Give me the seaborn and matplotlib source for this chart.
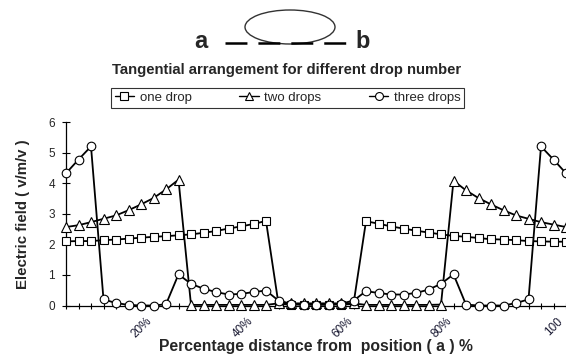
import matplotlib
matplotlib.use("Agg")
import matplotlib.pyplot as plt
import seaborn as sns
import pandas as pd
from matplotlib.patches import Ellipse
from matplotlib.lines import Line2D

# ---------------- data ----------------
positions = [0, 2.5, 5, 7.5, 10, 12.5, 15, 17.5, 20, 22.5,
             25, 27.5, 30, 32.5, 35, 37.5, 40, 42.5, 45, 47.5,
             50, 52.5, 55, 57.5, 60, 62.5, 65, 67.5, 70, 72.5,
             75, 77.5, 80, 82.5, 85, 87.5, 90, 92.5, 95, 97.5, 100]

one_drop = [2.10, 2.11, 2.11, 2.14, 2.16, 2.19, 2.22, 2.25, 2.27, 2.30,
            2.33, 2.38, 2.44, 2.52, 2.59, 2.67, 2.77,
            0.05, 0.03, 0.03, 0.03, 0.03, 0.03, 0.05,
            2.76, 2.68, 2.59, 2.52, 2.45, 2.39, 2.33, 2.28, 2.25, 2.21,
            2.17, 2.16, 2.14, 2.11, 2.10, 2.09, 2.09]

two_drops = [2.57, 2.63, 2.73, 2.84, 2.95, 3.12, 3.31, 3.52, 3.80, 4.12,
             0.02, 0.02, 0.02, 0.02, 0.02, 0.02, 0.02,
             0.07, 0.07, 0.07, 0.07, 0.07, 0.07, 0.07,
             0.02, 0.02, 0.02, 0.02, 0.02, 0.02, 0.03,
             4.09, 3.77, 3.52, 3.31, 3.12, 2.95, 2.84, 2.73, 2.65, 2.57]

three_drops = [4.33, 4.78, 5.21,
               0.20, 0.08, 0.02, 0.00, 0.00, 0.04, 1.02, 0.71, 0.55, 0.44,
               0.36, 0.38, 0.44, 0.49,
               0.16, 0.06, 0.03, 0.03, 0.03, 0.06, 0.16,
               0.47, 0.41, 0.36, 0.36, 0.41, 0.52, 0.71, 1.02, 0.03, 0.00,
               0.00, 0.00, 0.08, 0.20,
               5.21, 4.78, 4.33]

series_names = ["one drop", "two drops", "three drops"]
y_ticks = [0, 1, 2, 3, 4, 5, 6]
x_tick_labels = ["20%", "40%", "60%", "80%", "100"]

title_text = "Tangential arrangement for different drop number"
x_label = "Percentage distance from  position ( a ) %"
y_label = "Electric field ( v/m/v )"

# ---------------- style ----------------
sns.set_theme(style="white")
plt.rcParams["font.family"] = ["Liberation Sans", "DejaVu Sans"]
plt.rcParams["lines.scale_dashes"] = False

W, H = 566, 356
fig = plt.figure(figsize=(W / 100, H / 100), dpi=100)
ax_left, ax_right, ax_bottom, ax_top = 66, 566, 305.5, 122.3
ax = fig.add_axes([ax_left / W, 1 - ax_bottom / H,
                   (ax_right - ax_left) / W, (ax_bottom - ax_top) / H])

df = pd.DataFrame({
    "pos": positions * 3,
    "value": one_drop + two_drops + three_drops,
    "series": sum([[n] * len(positions) for n in series_names], []),
})

markers = {"one drop": "s", "two drops": "^", "three drops": "o"}
msizes = {"one drop": 5.8, "two drops": 6.8, "three drops": 6.2}

handles = []
for name in series_names:
    sub = df[df["series"] == name]
    sns.lineplot(data=sub, x="pos", y="value", ax=ax, color="black",
                 marker=markers[name], markersize=msizes[name],
                 markerfacecolor="white", markeredgecolor="black",
                 markeredgewidth=0.8, linewidth=1.3, clip_on=False,
                 legend=False, zorder=3)
    handles.append(Line2D([], [], color="black", lw=1.0, marker=markers[name],
                          markersize=msizes[name] - 0.5, markerfacecolor="white",
                          markeredgecolor="black", markeredgewidth=0.8))

ax.set_xlim(0, 100)
ax.set_ylim(0, 6)
for s in ["top", "right"]:
    ax.spines[s].set_visible(False)
for s in ["left", "bottom"]:
    ax.spines[s].set_color("black")
    ax.spines[s].set_linewidth(0.9)

# x ticks: small marks at every data point, labels rotated
ax.set_xticks(positions, minor=True)
ax.set_xticks([16.0, 36.2, 56.2, 76.0, 98.2])
ax.set_xticklabels(x_tick_labels, rotation=45, ha="right",
                   rotation_mode="anchor", fontsize=8.5, color="#1a1a33")
ax.tick_params(axis="x", which="major", length=0, pad=7)
ax.tick_params(axis="x", which="minor", direction="inout", length=5,
               width=0.8, color="black", bottom=True)

ax.set_yticks(y_ticks)
ax.set_yticklabels([str(t) for t in y_ticks], fontsize=8.5)
ax.tick_params(axis="y", direction="inout", length=6, width=0.8,
               color="black", pad=5, left=True)

ax.set_xlabel(x_label, fontsize=11.3, fontweight="bold")
ax.xaxis.set_label_coords(0.5, -0.185)
ax.set_ylabel(y_label, fontsize=10.8, fontweight="bold")
ax.yaxis.set_label_coords(-0.072, 0.5)
ax.grid(False)

# legend
leg = fig.legend(handles, series_names, loc="center",
                 bbox_to_anchor=(287.5 / W, 1 - 98 / H), ncol=3,
                 frameon=True, fancybox=False, edgecolor="black",
                 fontsize=9.5, handlelength=1.5, handletextpad=0.4,
                 columnspacing=3.6, borderpad=0.3)
leg.get_frame().set_linewidth(0.8)

# title
fig.text(287 / W, 1 - 70 / H, title_text, ha="center", va="center",
         fontsize=10.7, fontweight="bold")

# top diagram (pixel coordinates overlay)
ov = fig.add_axes([0, 0, 1, 1])
ov.set_xlim(0, W)
ov.set_ylim(H, 0)
ov.axis("off")
ov.add_patch(Ellipse((290, 27), 90, 34, fill=False, edgecolor="#333333", lw=1.0))
ov.plot([225, 348], [43, 43], color="black", lw=1.8,
        linestyle=(0, (15.8, 7.9)))
ov.text(201, 48, "a", ha="center", va="baseline", fontsize=17, fontweight="bold")
ov.text(363, 48, "b", ha="center", va="baseline", fontsize=17, fontweight="bold")

fig.savefig("out.png", dpi=100)
